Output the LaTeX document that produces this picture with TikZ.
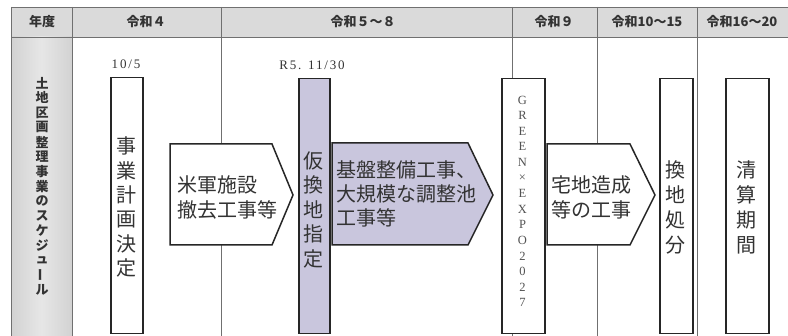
\documentclass[tikz,border=0pt]{standalone}
\usepackage{fontspec}
\setmainfont{Liberation Serif}
\newfontfamily\cjk{Noto Sans CJK JP}
\newfontfamily\wideserif[LetterSpace=14]{Liberation Serif}
\definecolor{hdr}{HTML}{DADADA}
\definecolor{colone}{HTML}{D2D2D2}
\definecolor{grid}{HTML}{707070}
\definecolor{edge}{HTML}{262626}
\definecolor{lav}{HTML}{C9C6DD}
\definecolor{ink}{HTML}{333333}
\begin{document}
\begin{tikzpicture}[x=1pt,y=-1pt,
  gridline/.style={draw=grid, line width=0.8pt},
  boxshape/.style={draw=edge, line width=1.5pt, fill=white, inner sep=0pt, anchor=north west},
  lavbox/.style={boxshape, fill=lav},
  arrowshape/.style={draw=edge, line width=1.5pt, fill=white, line join=miter},
  jpv/.style={font=\cjk\fontsize{20}{20}\selectfont, text=ink, inner sep=0pt},
  jph/.style={font=\cjk\fontsize{20}{25}\selectfont, text=ink, align=left, inner sep=0pt, anchor=west},
  hdrtxt/.style={font=\cjk\bfseries\fontsize{13}{13}\selectfont, text=ink, inner sep=0pt},
  coltxt/.style={font=\cjk\bfseries\fontsize{13}{13}\selectfont, text=ink, inner sep=0pt},
  smalltxt/.style={font=\wideserif\fontsize{13}{13}\selectfont, text=ink, inner sep=0pt},
  expotxt/.style={font=\fontsize{12.5}{12.5}\selectfont, text=ink!85, inner sep=0pt}]
\path[use as bounding box] (0,0) rectangle (788,336);
\clip (0,0) rectangle (788,336);
\fill[white] (0,0) rectangle (788,336);
% table background
\fill[hdr] (11,7) rectangle (792,37);
\shade[left color=colone, right color=colone, middle color=colone!55] (11,37) rectangle (72,340);
% grid
\draw[gridline] (11,7) -- (792,7);
\draw[gridline] (11,37) -- (792,37);
\foreach \gx in {11,72,221,512,597,697}
  \draw[gridline] (\gx,7) -- (\gx,340);
% header texts
\node[hdrtxt] (h0) at (42,22) {年度};
\node[hdrtxt] (h1) at (146,22) {令和４};
\node[hdrtxt] (h2) at (363,22) {令和５～８};
\node[hdrtxt] (h3) at (554,22) {令和９};
\node[hdrtxt] (h4) at (647,22) {令和10～15};
\node[hdrtxt] (h5) at (742,22) {令和16～20};
% first column vertical title
\foreach \c [count=\i] in {土,地,区,画,整,理,事,業,の,ス,ケ,ジ,ュ,{\rotatebox[origin=c]{90}{ー}},ル}
  \node[coltxt] (t\i) at (42,{83+14.8*(\i-1)}) {\c};
% box 1
\node[boxshape, minimum width=32pt, minimum height=256pt] (b1) at (110,77) {};
\node[smalltxt] (d1) at (126,64) {10/5};
\foreach \c [count=\i] in {事,業,計,画,決,定}
  \node[jpv] (b1c\i) at (126,{146+24.4*(\i-1)}) {\c};
% arrow A
\draw[arrowshape] (170,144) -- (272,144) -- (293,195) -- (272,245) -- (170,245) -- cycle;
\node[jph] (ta) at (177,197.5) {米軍施設\\撤去工事等};
% box 2 lavender
\node[lavbox, minimum width=31pt, minimum height=255pt] (b2) at (298,78) {};
\node[smalltxt] (d2) at (312,65) {R5. 11/30};
\foreach \c [count=\i] in {仮,換,地,指,定}
  \node[jpv] (b2c\i) at (313.5,{161+24.4*(\i-1)}) {\c};
% arrow B lavender
\draw[arrowshape, fill=lav] (332,143) -- (468,143) -- (493,195) -- (468,245) -- (332,245) -- cycle;
\node[jph, font=\cjk\fontsize{20}{24}\selectfont] (tb) at (336,194) {基盤整備工事、\\大規模な調整池\\工事等};
% GREEN EXPO box
\node[boxshape, minimum width=43pt, minimum height=255pt] (b3) at (501,78) {};
\foreach \c [count=\i] in {G,R,E,E,N,×,E,X,P,O,2,0,2,7}
  \node[expotxt] (b3c\i) at (522.5,{100+15.6*(\i-1)}) {\c};
% arrow C
\draw[arrowshape] (547,144) -- (630,144) -- (655,195) -- (630,245) -- (547,245) -- cycle;
\node[jph] (tc) at (551,197.5) {宅地造成\\等の工事};
% box 4
\node[boxshape, minimum width=33pt, minimum height=255pt] (b4) at (659,78) {};
\foreach \c [count=\i] in {換,地,処,分}
  \node[jpv] (b4c\i) at (675.5,{170+25*(\i-1)}) {\c};
% box 5
\node[boxshape, minimum width=43pt, minimum height=255pt] (b5) at (725,78) {};
\foreach \c [count=\i] in {清,算,期,間}
  \node[jpv] (b5c\i) at (746.5,{170+25*(\i-1)}) {\c};
\end{tikzpicture}
\end{document}
